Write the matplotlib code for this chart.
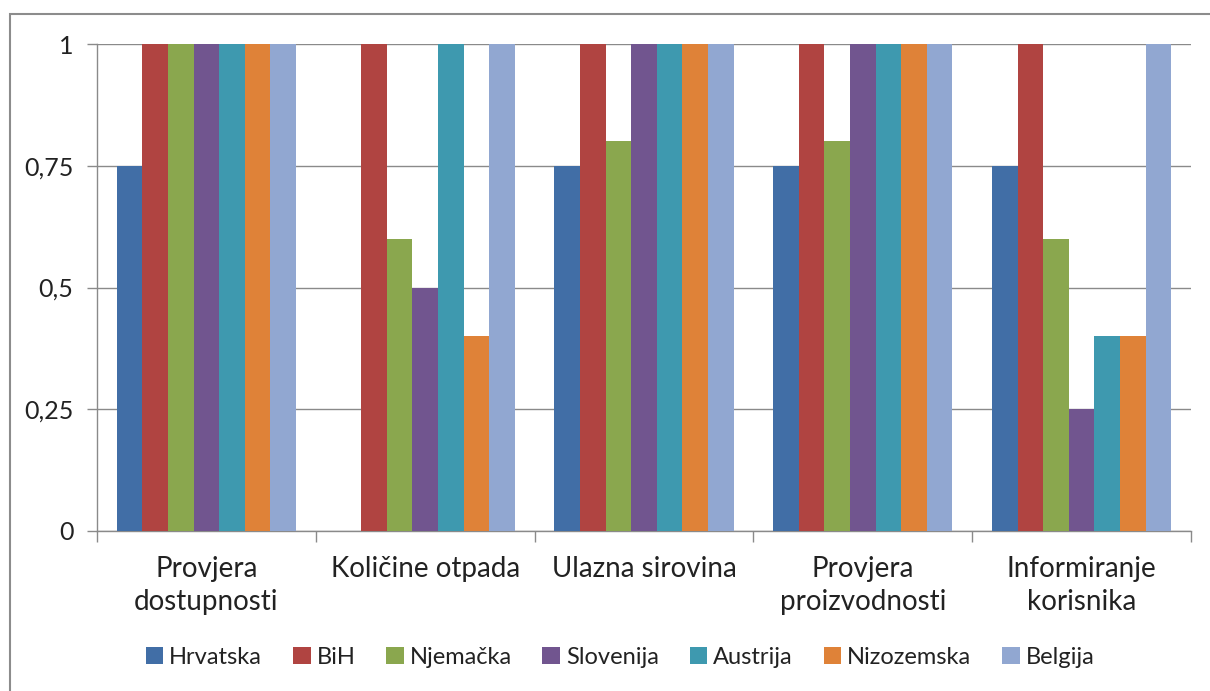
import numpy as np
import matplotlib.pyplot as plt
from matplotlib.patches import Rectangle

# Categories and series values
categories = ['Provjera\ndostupnosti', 'Količine otpada', 'Ulazna sirovina',
              'Provjera\nproizvodnosti', 'Informiranje\nkorisnika']
hrvatska = [0.75, 0.0, 0.75, 0.75, 0.75]
bih = [1.0, 1.0, 1.0, 1.0, 1.0]
njemacka = [1.0, 0.6, 0.8, 0.8, 0.6]
slovenija = [1.0, 0.5, 1.0, 1.0, 0.25]
austrija = [1.0, 1.0, 1.0, 1.0, 0.4]
nizozemska = [1.0, 0.4, 1.0, 1.0, 0.4]
belgija = [1.0, 1.0, 1.0, 1.0, 1.0]

series = ['Hrvatska', 'BiH', 'Njemačka', 'Slovenija', 'Austrija', 'Nizozemska', 'Belgija']
values = [hrvatska, bih, njemacka, slovenija, austrija, nizozemska, belgija]
colors = ['#416ea6', '#b04441', '#8aa74e', '#71558f', '#3e99af', '#df8238', '#91a7d1']

plt.rcParams['font.family'] = ['Lato', 'DejaVu Sans']

fig = plt.figure(figsize=(12.1, 6.91), dpi=100)
ax = fig.add_axes([97 / 1210, 1 - 531 / 691, (1191 - 97) / 1210, (531 - 44) / 691])

# Outer chart border (only top and left visible in the crop)
fig.patches.append(Rectangle((10 / 1210, -0.05), 1.2, 1 - 14 / 691 + 0.05,
                             transform=fig.transFigure, fill=False,
                             edgecolor='#8c8c8c', linewidth=1.5))

x = np.arange(len(categories))
bw = 0.117
for i, (name, vals, c) in enumerate(zip(series, values, colors)):
    ax.bar(x + (i - 3) * bw, vals, width=bw, color=c, label=name, zorder=3)

ax.set_xlim(-0.5, len(categories) - 0.5)
ax.set_ylim(0, 1)
ax.set_yticks([0, 0.25, 0.5, 0.75, 1])
ax.set_yticklabels(['0', '0,25', '0,5', '0,75', '1'])
ax.yaxis.grid(True, color='#8a8a8a', linewidth=1, zorder=0)

ax.set_xticks(x)
ax.set_xticklabels(categories, linespacing=1.35)
ax.set_xticks(np.arange(-0.5, len(categories)), minor=True)
ax.tick_params(axis='x', which='major', length=0, pad=18, labelsize=20, colors='#222222')
ax.tick_params(axis='x', which='minor', length=8, color='#8a8a8a', width=1)
ax.tick_params(axis='y', length=7, color='#8a8a8a', width=1, pad=10, labelsize=18,
               labelcolor='#222222')

for s in ['top', 'right']:
    ax.spines[s].set_visible(False)
for s in ['left', 'bottom']:
    ax.spines[s].set_color('#8a8a8a')
    ax.spines[s].set_linewidth(1)

leg = fig.legend(loc='center', bbox_to_anchor=(620 / 1210, 1 - 657 / 691), ncol=7,
                 frameon=False, fontsize=17, handlelength=0.75, handleheight=0.75,
                 handletextpad=0.25, columnspacing=1.3)
for t in leg.get_texts():
    t.set_color('#222222')

fig.savefig('out.png', dpi=100)
